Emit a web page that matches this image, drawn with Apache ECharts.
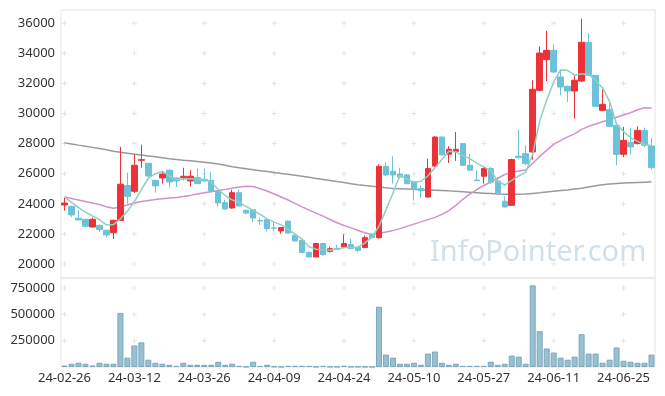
<!DOCTYPE html>
<html>
<head>
<meta charset="utf-8">
<script src="https://cdn.jsdelivr.net/npm/echarts@6/dist/echarts.min.js"></script>
<style>html,body{margin:0;padding:0;background:#fff}#c{width:665px;height:396px}</style>
</head>
<body>
<div id="c"></div>
<script>
const dates = ['24-02-26','24-02-27','24-02-28','24-02-29',
'24-03-04','24-03-05','24-03-06','24-03-07','24-03-08','24-03-11','24-03-12','24-03-13','24-03-14','24-03-15','24-03-18','24-03-19','24-03-20','24-03-21','24-03-22','24-03-25','24-03-26','24-03-27','24-03-28','24-03-29',
'24-04-01','24-04-02','24-04-03','24-04-04','24-04-05','24-04-08','24-04-09','24-04-11','24-04-12','24-04-15','24-04-16','24-04-17','24-04-18','24-04-19','24-04-22','24-04-23','24-04-24','24-04-25','24-04-26','24-04-29','24-04-30',
'24-05-02','24-05-03','24-05-07','24-05-08','24-05-09','24-05-10','24-05-13','24-05-14','24-05-16','24-05-17','24-05-20','24-05-21','24-05-22','24-05-23','24-05-24','24-05-27','24-05-28','24-05-29','24-05-30','24-05-31',
'24-06-03','24-06-04','24-06-05','24-06-07','24-06-10','24-06-11','24-06-12','24-06-13','24-06-14','24-06-17','24-06-18','24-06-19','24-06-20','24-06-21','24-06-24','24-06-25','24-06-26','24-06-27','24-06-28',
'24-07-01'];

// [open, close, low, high]
const ohlc = [
[23920,24050,23550,24390],[23830,23260,23130,23880],[23040,22930,22920,23570],[22970,22510,22460,22990],
[22460,22970,22440,23080],[22570,22290,22150,22620],[22240,21930,21750,22280],[22080,22900,21660,22950],
[22900,25300,22850,27780],[25210,24500,24010,26070],[24830,26560,24720,27270],[26890,26935,26390,27930],
[26690,25850,25780,26720],[25560,25190,24740,25600],[25720,25980,25340,26200],[26230,25450,25120,26260],
[25720,25520,25120,25760],[25740,25830,25560,26400],[25520,25830,25160,26230],[25740,25340,25300,26340],
[25630,25520,25450,26340],[25560,24850,24820,26120],[24850,24060,23830,24880],[24080,23660,23610,24280],
[23720,24740,23680,24940],[24740,23860,23820,24940],[23570,23390,23300,23610],[23610,23060,22790,23640],
[22880,22860,22590,23080],[22950,22350,22170,22980],[22390,22370,22170,22800],[22200,22420,22020,22460],
[22840,22060,22020,22900],[21910,21530,21500,21950],[21575,20760,20730,21600],[20780,20470,20440,20800],
[20470,21360,20440,21400],[21360,20620,20560,21420],[20840,21020,20760,21160],[21040,20960,20930,21290],
[21110,21360,21090,21970],[21290,21020,21000,21690],[21130,20910,20800,21150],[21090,21750,21070,21880],
[21950,21750,21690,22020],[21750,26490,21690,26620],[26490,25920,25830,26760],[26160,25920,25340,27160],
[25980,25780,25670,26400],[25920,25340,25300,25990],[25470,24940,24230,25500],[25010,24880,24410,25220],
[24450,26340,24410,27000],[26510,28440,26450,28480],[28440,27250,27220,28460],[27290,27620,26710,27820],
[27490,27620,26850,28770],[28000,26560,26540,28020],[26560,26230,26200,27330],[25580,25540,25520,26230],
[25830,26340,25340,26450],[26340,25450,25340,26450],[25520,24720,24700,25780],[24170,23790,23760,24500],
[23900,26940,23870,27000],[27160,27070,27000,28930],[27330,26670,26560,27890],[27445,31610,26935,32210],
[31540,34020,31480,34470],[33580,34200,32160,35490],[34200,32760,32700,34600],[32430,31760,31210,32920],
[31810,31500,30770,31850],[31500,32210,29660,32540],[32160,34730,32100,36300],[34730,32540,32500,35350],
[32540,30480,30450,32560],[30210,30610,30150,31590],[30260,29150,29100,30920],[29220,27290,26560,29250],
[27290,28220,27110,29110],[28090,27780,27290,29060],[28000,28880,27950,29150],[28880,27890,27760,29060],
[27840,26400,26270,28380]];

const volume = [14500,30600,40300,30600,14500,40300,30600,30600,514000,88700,
204700,233700,69300,40300,30600,20800,11100,40300,20800,20800,
20800,20800,50000,20800,30600,11100,3000,50000,11100,20800,
5000,1500,11100,11100,11100,11100,3000,11100,3000,3000,
11100,3000,3000,3000,1500,572200,117700,88700,30600,30600,
40300,20800,127400,146700,40300,20800,30600,11100,11100,11100,
11100,50000,20800,30600,108000,98400,30600,775300,340100,175700,
137000,88700,69300,98400,311100,127400,127400,40300,69300,185400,
59600,50000,40300,40300,117700];

const ma5 = [24450,24100,23750,23450,23200,22950,22600,22620,23000,23500,
24150,24950,25700,26000,26150,25850,25620,25650,25660,25650,
25620,25450,24950,24550,24250,24120,23820,23560,23300,23000,
22780,22600,22300,21980,21650,21150,20980,20940,20920,21000,
21090,21100,21120,21400,21800,22500,23600,24700,25900,25650,
25420,25500,25850,26400,26950,27500,27450,27200,27000,26700,
26450,26200,25500,25250,25550,25850,26100,27300,29500,30900,
32100,32900,32870,32550,32650,32600,32200,31700,30800,29300,
28800,28400,28150,27950,27880];

const ma20 = [24450,24350,24250,24150,24050,23950,23800,23700,23780,23920,
24060,24160,24220,24280,24330,24380,24420,24480,24560,24650,
24730,24800,24880,24960,25040,25110,25160,25150,25000,24850,
24650,24450,24250,24030,23800,23580,23380,23180,22960,22740,
22560,22400,22230,22080,21960,22030,22120,22220,22350,22500,
22650,22800,22950,23100,23300,23550,23900,24300,24650,24950,
25220,25450,25700,25950,26100,26180,26250,26700,27150,27550,
27950,28200,28450,28650,28950,29150,29300,29450,29600,29750,
29900,30050,30250,30380,30360];

const ma120 = [28050,27980,27900,27830,27750,27670,27590,27500,27420,27360,
27300,27240,27180,27120,27060,27000,26950,26900,26860,26820,
26770,26710,26640,26560,26470,26400,26330,26260,26200,26140,
26080,26020,25960,25900,25830,25760,25690,25620,25550,25480,
25410,25340,25270,25210,25160,25110,25060,25020,25000,24980,
24960,24940,24920,24900,24880,24860,24830,24800,24770,24740,
24710,24680,24650,24630,24630,24640,24650,24690,24730,24780,
24830,24880,24920,24980,25040,25120,25200,25270,25310,25350,
25380,25400,25420,25440,25460];

const priceTicks = [20000,22000,24000,26000,28000,30000,32000,34000,36000];
const volumeTicks = [250000,500000,750000];

const labelDates = dates.filter((d, i) => i % 10 === 0);
const crossPrice = [];
labelDates.forEach(d => priceTicks.forEach(v => crossPrice.push([d, v])));
const crossVol = [];
labelDates.forEach(d => volumeTicks.forEach(v => crossVol.push([d, v])));

const FONT = 'Noto Sans';
const crossSymbol = 'path://M2,0h1v2h2v1h-2v2h-1v-2h-2v-1h2z';
const plain = v => String(v);

const chart = echarts.init(document.getElementById('c'), null, {renderer: 'canvas'});
chart.setOption({
  backgroundColor: '#fff',
  animation: false,
  grid: [
    {left: 61, right: 10, top: 10, height: 268, show: true, borderColor: '#e4e4e4', borderWidth: 1},
    {left: 61, right: 10, top: 278, height: 89, show: true, borderColor: '#e4e4e4', borderWidth: 1}
  ],
  graphic: [{
    type: 'text', left: 430, top: 238, silent: true, z: 0,
    style: {text: 'InfoPointer.com', fill: 'rgba(178,203,218,0.6)', font: '29px "Noto Sans"'}
  }],
  xAxis: [
    {type: 'category', gridIndex: 0, data: dates, boundaryGap: true,
     axisLine: {show: false}, axisTick: {show: false}, axisLabel: {show: false}, splitLine: {show: false}},
    {type: 'category', gridIndex: 1, data: dates, boundaryGap: true,
     axisLine: {show: false}, axisTick: {show: false}, splitLine: {show: false},
     axisLabel: {interval: 9, color: '#333', fontFamily: FONT, fontSize: 13, margin: 5}}
  ],
  yAxis: [
    {type: 'value', gridIndex: 0, min: 19070, max: 36880, splitNumber: 8,
     axisLine: {show: false}, axisTick: {show: false}, splitLine: {show: false},
     axisLabel: {color: '#333', fontFamily: FONT, fontSize: 13, margin: 6, showMinLabel: false, showMaxLabel: false, formatter: plain}},
    {type: 'value', gridIndex: 1, min: 0, max: 845000, interval: 250000,
     axisLine: {show: false}, axisTick: {show: false}, splitLine: {show: false},
     axisLabel: {color: '#333', fontFamily: FONT, fontSize: 13, margin: 6, showMinLabel: false, showMaxLabel: false, formatter: plain}}
  ],
  series: [
    {type: 'scatter', xAxisIndex: 0, yAxisIndex: 0, data: crossPrice, symbol: crossSymbol, symbolSize: 5,
     itemStyle: {color: '#dcdcdc'}, silent: true, z: 1},
    {type: 'scatter', xAxisIndex: 1, yAxisIndex: 1, data: crossVol, symbol: crossSymbol, symbolSize: 5,
     itemStyle: {color: '#dcdcdc'}, silent: true, z: 1},
    {type: 'line', xAxisIndex: 0, yAxisIndex: 0, data: ma120, showSymbol: false, z: 2,
     lineStyle: {color: '#9a9a9a', width: 1.5}},
    {type: 'line', xAxisIndex: 0, yAxisIndex: 0, data: ma20, showSymbol: false, z: 2,
     lineStyle: {color: '#d391c9', width: 1.5}},
    {type: 'candlestick', xAxisIndex: 0, yAxisIndex: 0, data: ohlc, barWidth: 6, z: 3,
     itemStyle: {color: '#ec3238', color0: '#6cc2d8', borderColor: '#ec3238', borderColor0: '#6cc2d8', borderWidth: 1}},
    {type: 'line', xAxisIndex: 0, yAxisIndex: 0, data: ma5, showSymbol: false, z: 4,
     lineStyle: {color: '#8fd0c2', width: 1.5}},
    {type: 'bar', xAxisIndex: 1, yAxisIndex: 1, data: volume, barWidth: 6, z: 3,
     itemStyle: {color: '#98c0d0', borderColor: '#7aa8bb', borderWidth: 1}}
  ]
});
</script>
</body>
</html>
